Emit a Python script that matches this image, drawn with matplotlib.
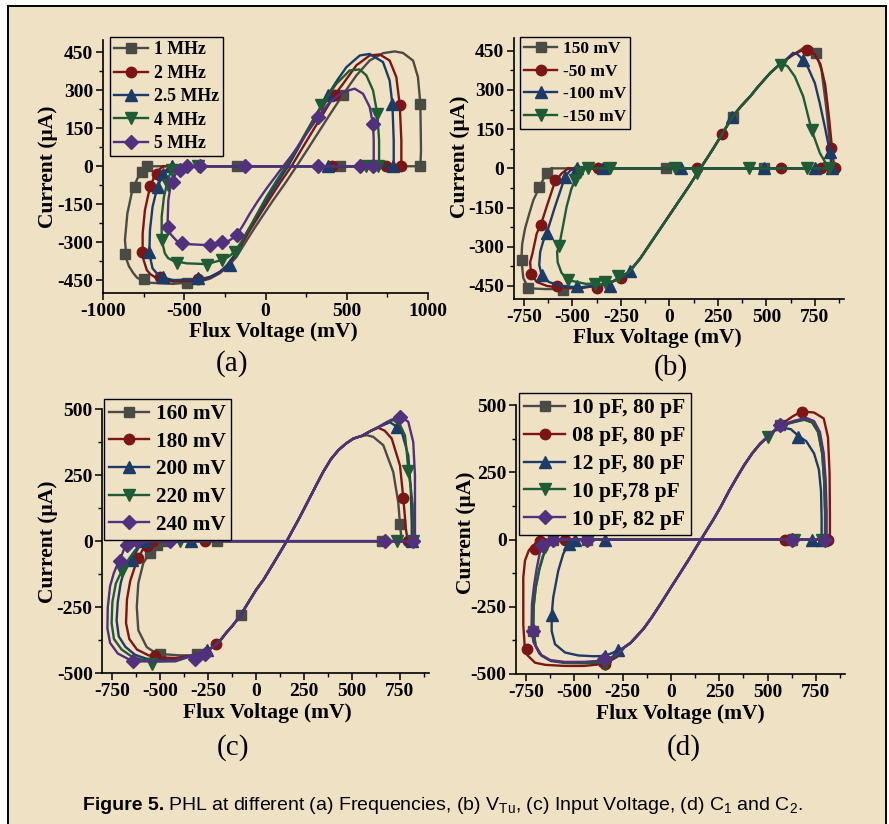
import matplotlib
matplotlib.use('Agg')
import matplotlib.pyplot as plt
from matplotlib.lines import Line2D
from matplotlib.patches import Rectangle
from matplotlib.ticker import MultipleLocator

plt.rcParams['axes.unicode_minus'] = False
plt.rcParams['font.family'] = ['Liberation Serif', 'DejaVu Serif']
plt.rcParams['mathtext.fontset'] = 'custom'
plt.rcParams['mathtext.rm'] = 'Liberation Sans'
plt.rcParams['mathtext.it'] = 'Liberation Sans'

W, H = 889, 824
BG = '#efe2c4'
COLORS = ['#4b4b46', '#7d1416', '#1d3b68', '#1f5b34', '#52307e']
MARKERS = ['s', 'o', '^', 'v', 'D']
MSIZES = [6.5, 7.5, 8.0, 8.0, 7.0]

# ---------------- panel (a): frequencies ----------------
a_labels = ['1 MHz', '2 MHz', '2.5 MHz', '4 MHz', '5 MHz']
a_1mhz = [(-731, 0), (953, 0), (957, 63), (953, 247), (938, 352), (908, 417), (846, 447), (795, 453),
          (723, 446), (641, 417), (559, 358), (477, 283), (400, 208), (334, 142), (260, 68), (191, 0),
          (120, -68), (47, -134), (-20, -198), (-76, -252), (-130, -307), (-178, -357), (-230, -395),
          (-281, -422), (-340, -443), (-404, -455), (-568, -464), (-731, -459), (-790, -440), (-813, -422),
          (-840, -395), (-854, -370), (-865, -291), (-850, -186), (-824, -108), (-793, -55), (-768, -22),
          (-731, 0)]
a_1mhz_pts = [(-748, -446), (-865, -346), (-803, -81), (-762, -22), (-731, 0), (-174, 0), (457, 0),
              (953, 0), (953, 247), (477, 283), (-486, -462)]
a_2mhz = [(-629, 0), (836, 0), (836, 102), (826, 243), (805, 352), (764, 417), (703, 441), (641, 437),
          (559, 398), (477, 325), (426, 282), (360, 212), (293, 142), (225, 70), (160, 0), (90, -65),
          (27, -127), (-35, -190), (-96, -252), (-150, -312), (-199, -363), (-250, -403), (-301, -426),
          (-360, -443), (-424, -451), (-568, -455), (-670, -442), (-710, -425), (-731, -409), (-756, -357),
          (-756, -265), (-742, -173), (-715, -94), (-686, -42), (-654, -13), (-629, 0)]
a_2mhz_pts = [(-760, -340), (-709, -76), (-670, -31), (-650, -436), (-414, -446), (426, 282), (826, 243),
              (412, 0), (744, 0), (836, 0)]
a_25mhz = [(-578, 0), (789, 0), (789, 102), (781, 244), (764, 338), (723, 411), (641, 443), (580, 437),
           (498, 391), (440, 338), (385, 282), (320, 210), (262, 142), (200, 70), (139, 0), (70, -68),
           (6, -134), (-50, -195), (-107, -252), (-155, -310), (-199, -357), (-240, -392), (-281, -416),
           (-340, -436), (-404, -446), (-568, -449), (-650, -436), (-695, -403), (-715, -344), (-711, -252),
           (-695, -160), (-670, -94), (-639, -42), (-609, -13), (-578, 0)]
a_25mhz_pts = [(-715, -340), (-662, -81), (-629, -29), (-578, 0), (-629, -436), (-414, -442), (-219, -390),
               (385, 282), (781, 244), (385, 0), (785, 0)]
a_4mhz = [(-557, 0), (699, 0), (699, 102), (688, 207), (662, 299), (621, 358), (580, 382), (518, 378),
          (436, 325), (344, 240), (290, 180), (232, 115), (180, 55), (125, 0), (65, -60), (6, -121),
          (-45, -180), (-96, -239), (-145, -295), (-189, -337), (-230, -358), (-270, -370), (-363, -386),
          (-486, -383), (-568, -373), (-600, -362), (-619, -344), (-639, -291), (-639, -199), (-625, -121),
          (-604, -62), (-584, -22), (-557, 0)]
a_4mhz_pts = [(-637, -291), (-600, -75), (-578, -16), (-547, -383), (-363, -388), (-270, -370),
              (-189, -339), (344, 240), (688, 207), (-414, 0), (621, 0), (693, 0)]
a_5mhz = [(-496, 0), (666, 0), (666, 102), (662, 165), (641, 234), (600, 286), (549, 306), (477, 293),
          (395, 253), (324, 194), (265, 140), (211, 89), (160, 42), (109, 0), (6, -88), (-45, -135),
          (-96, -186), (-140, -235), (-178, -272), (-220, -292), (-260, -302), (-363, -311), (-486, -307),
          (-547, -294), (-588, -265), (-602, -213), (-598, -134), (-584, -75), (-557, -35), (-527, -9),
          (-496, 0)]
a_5mhz_pts = [(-600, -239), (-570, -62), (-527, -16), (-486, 0), (-516, -304), (-342, -311), (-265, -300),
              (-178, -272), (324, 194), (662, 165), (-404, 0), (-127, 0), (324, 0), (580, 0), (662, 0)]

# ---------------- panel (b): V_Tu ----------------
b_labels = ['150 mV', '-50 mV', '-100 mV', '-150 mV']
b_shared = [(560, 392), (520, 365), (490, 340), (450, 306), (420, 278), (370, 238), (324, 196), (273, 132),
            (230, 80), (200, 45), (160, 0), (144, -19), (100, -70), (50, -125), (0, -180), (-50, -235),
            (-100, -290), (-150, -345), (-202, -392), (-230, -408), (-250, -418), (-300, -436), (-350, -446)]
b_150_right = [(836, 0), (827, 96), (810, 224), (784, 377), (755, 441), (730, 464), (700, 465), (680, 455),
               (640, 436), (600, 415)]
b_150_left = [(-450, -455), (-546, -462), (-640, -462), (-700, -460), (-730, -452), (-752, -420),
              (-762, -349), (-758, -290), (-743, -230), (-720, -170), (-700, -121), (-669, -73), (-645, -35),
              (-625, -12), (-606, 0)]
b_150_pts = [(755, 441), (326, 198), (-546, -466), (-726, -456), (-757, -349), (-669, -73), (-631, -19),
             (-17, 0), (489, 0), (836, 0)]
b_m50_right = [(850, 0), (838, 79), (822, 200), (803, 320), (778, 400), (745, 440), (707, 454), (680, 450),
               (640, 436), (600, 415)]
b_m50_left = [(-450, -458), (-580, -455), (-630, -450), (-683, -435), (-712, -403), (-717, -360),
              (-705, -326), (-683, -249), (-662, -217), (-632, -147), (-589, -51), (-554, -19), (-520, 0)]
b_m50_pts = [(707, 454), (832, 79), (273, 132), (-251, -418), (-374, -456), (-580, -451), (-712, -403),
             (-662, -217), (-589, -45), (-366, 0), (141, 0), (575, 0), (784, 0), (853, 0)]
b_m100_right = [(838, 0), (827, 64), (801, 160), (775, 250), (750, 326), (715, 385), (690, 415), (660, 437),
                (638, 442), (600, 415)]
b_m100_left = [(-450, -455), (-550, -452), (-620, -435), (-657, -409), (-670, -370), (-665, -320),
               (-650, -280), (-632, -249), (-589, -147), (-554, -70), (-537, -32), (-510, -8), (-480, 0)]
b_m100_pts = [(690, 415), (827, 64), (324, 196), (-202, -392), (-305, -451), (-477, -451), (-657, -409),
              (-632, -249), (-537, -32), (-477, 0), (-340, 0), (58, 0), (489, 0), (753, 0), (836, 0)]
b_m150_right = [(822, 0), (776, 58), (733, 147), (690, 275), (647, 351), (610, 390), (578, 403)]
b_m150_left = [(-383, -441), (-430, -442), (-520, -428), (-555, -400), (-575, -360), (-578, -320),
               (-568, -298), (-550, -230), (-529, -147), (-505, -80), (-486, -45), (-460, -13), (-434, 0)]
b_m150_pts = [(578, 396), (733, 147), (144, -19), (-264, -413), (-331, -435), (-383, -441), (-520, -428),
              (-568, -298), (-486, -45), (-460, -13), (-417, 0), (-305, 0), (29, 0), (410, 0), (707, 0),
              (822, 0)]

# ---------------- panel (c): input voltage ----------------
c_labels = ['160 mV', '180 mV', '200 mV', '220 mV', '240 mV']
c_shared = [(507, 388), (470, 370), (430, 345), (390, 310), (350, 262), (316, 215), (270, 150), (229, 92),
            (160, 0), (90, -85), (40, -145), (0, -185), (-40, -232), (-80, -280), (-120, -318), (-153, -345),
            (-180, -370), (-208, -391), (-240, -408), (-274, -420), (-326, -432)]
c_160_right = [(759, 0), (750, 64), (741, 146), (715, 261), (663, 363), (610, 395), (576, 401), (540, 396)]
c_160_left = [(-400, -432), (-480, -428), (-540, -415), (-569, -401), (-613, -337), (-621, -248),
              (-613, -159), (-587, -83), (-552, -45), (-517, -13), (-483, 0)]
c_160_pts = [(-80, -280), (750, 64), (655, 0), (-500, -426), (-309, -426), (-552, -45), (-517, -13),
             (-483, 0), (-205, 0)]
c_180_right = [(790, 0), (781, 45), (767, 165), (750, 286), (707, 388), (670, 418), (637, 429), (600, 418),
               (550, 398)]
c_180_left = [(-420, -442), (-500, -440), (-560, -432), (-620, -410), (-660, -370), (-677, -310),
              (-672, -220), (-655, -150), (-630, -95), (-613, -64), (-590, -32), (-569, -19), (-535, 0)]
c_180_pts = [(-208, -391), (767, 165), (793, 0), (-526, -435), (-613, -64), (-569, -19), (-535, 0), (-266, 0)]
c_200_right = [(812, 0), (811, 70), (806, 197), (793, 324), (759, 413), (733, 433), (698, 450), (650, 435),
               (600, 418), (550, 398)]
c_200_left = [(-420, -450), (-500, -450), (-570, -445), (-630, -430), (-680, -400), (-715, -360),
              (-726, -300), (-720, -230), (-705, -160), (-685, -105), (-648, -70), (-620, -35), (-600, -12),
              (-578, 0)]
c_200_pts = [(733, 433), (811, 0), (-648, -70), (-578, 0), (-340, 0), (-257, -413)]
c_220_right = [(819, 0), (816, 134), (805, 210), (793, 267), (785, 340), (776, 400), (750, 440), (715, 458),
               (680, 450), (640, 432), (600, 418), (550, 398)]
c_220_left = [(-420, -455), (-500, -455), (-570, -452), (-640, -440), (-700, -410), (-740, -370),
              (-752, -310), (-748, -230), (-730, -160), (-700, -114), (-665, -70), (-630, -35), (-600, -12),
              (-570, 0)]
c_220_pts = [(793, 267), (733, 0), (819, 0), (-700, -114), (-543, -464), (-396, 0)]
c_240_right = [(828, 0), (828, 95), (828, 248), (819, 375), (793, 452), (750, 471), (700, 458), (650, 437),
               (600, 418), (550, 398)]
c_240_left = [(-420, -452), (-520, -455), (-600, -455), (-660, -448), (-720, -425), (-760, -385),
              (-774, -330), (-772, -250), (-760, -170), (-740, -120), (-720, -85), (-708, -70), (-690, -35),
              (-674, -13), (-650, -3), (-625, 0)]
c_240_pts = [(750, 471), (819, 0), (672, 0), (-708, -76), (-674, -13), (-621, 0), (-639, -452),
             (-318, -445), (-448, 0), (-266, -426)]

# ---------------- panel (d): C1 and C2 ----------------
d_labels = ['10 pF, 80 pF', '08 pF, 80 pF', '12 pF, 80 pF', '10 pF,78 pF', '10 pF, 82 pF']
d_shared = [(530, 402), (500, 382), (460, 355), (420, 320), (380, 278), (340, 230), (300, 180), (260, 125),
            (220, 75), (155, 0), (100, -65), (50, -122), (0, -178), (-50, -235), (-100, -290), (-140, -330),
            (-180, -362), (-210, -385), (-240, -400)]
d_1080_right = [(797, 0), (797, 100), (792, 220), (782, 320), (762, 400), (730, 436), (685, 447),
                (640, 438), (564, 423)]
d_1080_left = [(-280, -428), (-345, -452), (-450, -457), (-550, -457), (-620, -450), (-670, -430),
               (-700, -395), (-713, -330), (-711, -250), (-700, -180), (-682, -110), (-662, -60),
               (-640, -25), (-620, -8), (-600, 0)]
d_1080_pts = [(564, 425), (-712, -342), (-669, -22), (-609, 0), (-436, 0), (-345, -450), (624, 0), (797, 0)]
d_0880_right = [(822, 0), (822, 100), (820, 250), (812, 380), (790, 450), (740, 472), (676, 476),
                (630, 458), (564, 425)]
d_0880_left = [(-280, -437), (-341, -462), (-450, -470), (-550, -470), (-650, -466), (-703, -458),
               (-740, -432), (-755, -414), (-764, -315), (-764, -141), (-755, -78), (-735, -40),
               (-703, -16), (-678, 0)]
d_0880_pts = [(676, 475), (-746, -408), (-703, -35), (-678, -4), (-548, 0), (-341, -462), (590, 0), (814, 0)]
d_1280_right = [(779, 0), (779, 80), (776, 180), (765, 260), (740, 320), (700, 365), (659, 385),
                (620, 410), (590, 414), (560, 412)]
d_1280_left = [(-272, -412), (-341, -433), (-400, -434), (-480, -431), (-548, -420), (-600, -389),
               (-617, -340), (-617, -280), (-609, -215), (-583, -116), (-557, -53), (-528, -16), (-497, 0)]
d_1280_pts = [(659, 382), (-617, -280), (-528, -16), (-497, 0), (-341, 0), (-341, -433), (-272, -412),
              (728, 0), (779, 0)]
d_1078_right = [(797, 0), (797, 100), (792, 220), (782, 320), (760, 400), (730, 435), (690, 445),
                (640, 437), (564, 422)]
d_1078_left = [(-280, -430), (-341, -458), (-450, -460), (-550, -459), (-620, -452), (-670, -432),
               (-700, -395), (-712, -330), (-710, -250), (-700, -180), (-680, -110), (-660, -60),
               (-640, -25), (-620, -8), (-600, 0)]
d_1078_pts = [(500, 382), (-652, -29), (-428, 0), (-341, -462), (638, 0), (779, 0)]
d_1082_right = [(805, 0), (805, 100), (800, 220), (790, 320), (770, 400), (740, 440), (700, 452),
                (640, 442), (564, 425)]
d_1082_left = [(-280, -428), (-345, -450), (-450, -455), (-550, -455), (-630, -448), (-680, -425),
               (-712, -380), (-721, -320), (-719, -240), (-708, -170), (-695, -110), (-680, -55),
               (-669, -22), (-645, -6), (-610, 0)]
d_1082_pts = [(564, 425), (-712, -342), (-669, -22), (-609, 0), (-436, 0), (-345, -445), (624, 0), (797, 0)]


def loop(right, shared, left):
    # flat branch from the left join point to the right end, then down the S-branch
    return left[-1:] + right + shared + left


a_series = [(a_1mhz, a_1mhz_pts), (a_2mhz, a_2mhz_pts), (a_25mhz, a_25mhz_pts),
            (a_4mhz, a_4mhz_pts), (a_5mhz, a_5mhz_pts)]
b_series = [(loop(b_150_right, b_shared, b_150_left), b_150_pts),
            (loop(b_m50_right, b_shared, b_m50_left), b_m50_pts),
            (loop(b_m100_right, b_shared, b_m100_left), b_m100_pts),
            (loop(b_m150_right, b_shared, b_m150_left), b_m150_pts)]
c_series = [(loop(c_160_right, c_shared, c_160_left), c_160_pts),
            (loop(c_180_right, c_shared, c_180_left), c_180_pts),
            (loop(c_200_right, c_shared, c_200_left), c_200_pts),
            (loop(c_220_right, c_shared, c_220_left), c_220_pts),
            (loop(c_240_right, c_shared, c_240_left), c_240_pts)]
d_series = [(loop(d_1080_right, d_shared, d_1080_left), d_1080_pts),
            (loop(d_0880_right, d_shared, d_0880_left), d_0880_pts),
            (loop(d_1280_right, d_shared, d_1280_left), d_1280_pts),
            (loop(d_1078_right, d_shared, d_1078_left), d_1078_pts),
            (loop(d_1082_right, d_shared, d_1082_left), d_1082_pts)]

fig = plt.figure(figsize=(W / 100, H / 100), dpi=100, facecolor='white')
fig.add_artist(Rectangle((8 / W, -0.05), 878 / W, 1.05 - 6 / H, transform=fig.transFigure,
                         facecolor=BG, edgecolor='black', linewidth=1.4, zorder=-10))


def fx(px):
    return px / W


def fy(py):
    return 1 - py / H


def panel(rect, series, labels, xlim, ylim, xmaj, ymaj, xlab, ylab, leg_at, leg_size, tag, tag_at):
    l, t, r, b = rect
    ax = fig.add_axes([fx(l), fy(b), (r - l) / W, (b - t) / H])
    ax.patch.set_alpha(0)
    for i, (path, pts) in enumerate(series):
        xs = [p[0] for p in path]
        ys = [p[1] for p in path]
        ax.plot(xs, ys, color=COLORS[i], lw=1.7, solid_joinstyle='round', zorder=2 + i)
        ax.plot([p[0] for p in pts], [p[1] for p in pts], ls='none', marker=MARKERS[i],
                ms=MSIZES[i], color=COLORS[i], zorder=2.5 + i)
    ax.set_xlim(*xlim)
    ax.set_ylim(*ylim)
    ax.xaxis.set_major_locator(MultipleLocator(xmaj))
    ax.xaxis.set_minor_locator(MultipleLocator(xmaj / 2))
    ax.yaxis.set_major_locator(MultipleLocator(ymaj))
    ax.yaxis.set_minor_locator(MultipleLocator(ymaj / 2))
    if ymaj == 150:
        ax.set_yticks([-450, -300, -150, 0, 150, 300, 450])
    for s in ['top', 'right']:
        ax.spines[s].set_visible(False)
    for s in ['left', 'bottom']:
        ax.spines[s].set_linewidth(1.2)
    ax.tick_params(which='major', direction='out', length=5, width=1.1, pad=2,
                   labelsize=14)
    ax.tick_params(which='minor', direction='out', length=3, width=1.0)
    for lab in ax.get_xticklabels() + ax.get_yticklabels():
        lab.set_fontweight('bold')
    ax.set_xlabel('Flux Voltage (mV)', fontsize=15.5, fontweight='bold', va='center', ha='center')
    ax.xaxis.set_label_coords((xlab[0] - l) / (r - l), (b - xlab[1]) / (b - t))
    ax.set_ylabel('Current (μA)', fontsize=15.5, fontweight='bold', va='center', ha='center')
    ax.yaxis.set_label_coords((ylab[0] - l) / (r - l), (b - ylab[1]) / (b - t))
    handles = [Line2D([], [], color=COLORS[i], marker=MARKERS[i], ms=MSIZES[i], lw=1.7)
               for i in range(len(labels))]
    leg = ax.legend(handles, labels, loc='upper left', bbox_to_anchor=(fx(leg_at[0]), fy(leg_at[1])),
                    bbox_transform=fig.transFigure, borderaxespad=0, fancybox=False, framealpha=1,
                    facecolor=BG, edgecolor='black', borderpad=0.25, labelspacing=0.36,
                    handlelength=1.9, handletextpad=0.3,
                    prop={'family': 'Liberation Serif', 'weight': 'bold', 'size': leg_size})
    leg.get_frame().set_linewidth(1.0)
    leg.set_zorder(20)
    fig.text(fx(tag_at[0]), fy(tag_at[1]), tag, fontsize=21, ha='center', va='center')
    return ax


panel((103, 39.5, 428, 293), a_series, a_labels, (-1000, 1000), (-500, 500), 500, 150,
      (273, 332), (48, 167), (110, 37), 12.8, '(a)', (232, 364))
panel((514, 37.7, 844, 299), b_series, b_labels, (-800, 900), (-500, 500), 250, 150,
      (657, 338), (460, 157), (520, 37), 12.5, '(b)', (671, 368))
panel((102.4, 409, 428.8, 673.3), c_series, c_labels, (-800, 900), (-500, 500), 250, 250,
      (267, 713), (48, 542), (104, 399), 15.2, '(c)', (233, 748))
panel((516.3, 405, 845, 674), d_series, d_labels, (-800, 900), (-500, 500), 250, 250,
      (680, 714), (466, 533), (519, 393), 15.5, '(d)', (684, 748))

cap_font = 'Liberation Sans'
t1 = fig.text(fx(83), fy(806), 'Figure 5.', fontsize=14, fontweight='bold', family=cap_font,
              ha='left', va='center')
fig.canvas.draw()
bb = t1.get_window_extent()
fig.text((bb.x1 + 4) / W, fy(806),
         'PHL at different (a) Frequencies, (b) V$_{\\mathrm{Tu}}$, (c) Input Voltage, (d) C$_1$ and C$_2$.',
         fontsize=14, family=cap_font, ha='left', va='center')

fig.savefig('out.png', dpi=100, facecolor='white')
